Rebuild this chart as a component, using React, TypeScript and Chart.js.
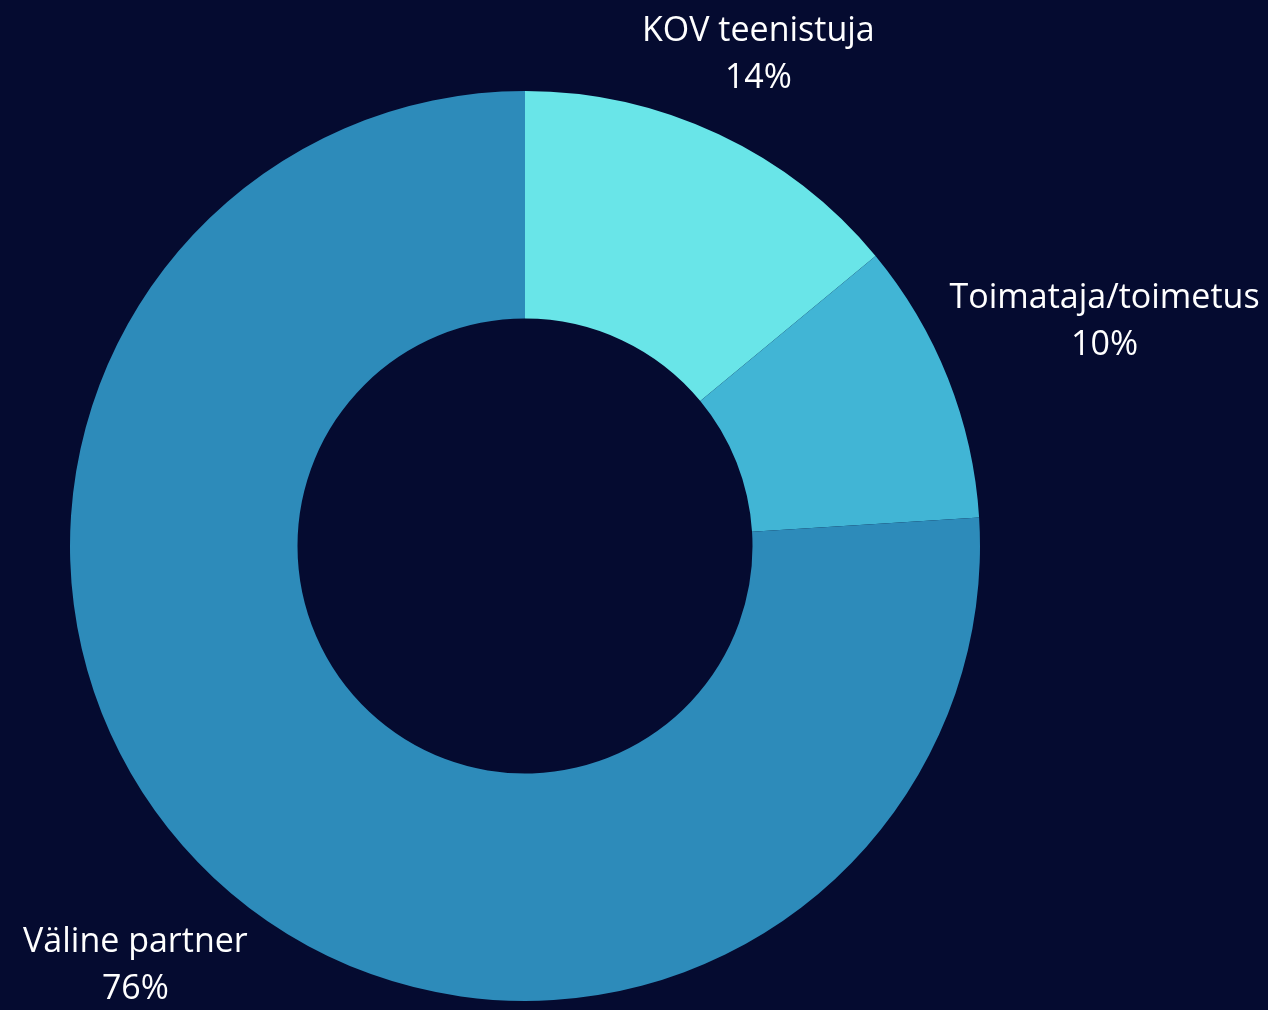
import React, { useEffect, useRef } from "react";
import { Chart, registerables } from "chart.js";

Chart.register(...registerables);

const categories = ["KOV teenistuja", "Toimataja/toimetus", "Väline partner"];
const shares = [14, 10, 76];
const sliceColors = ["#69E5E8", "#41B5D5", "#2D8BBA"];
const BG = "#050B30";

const outsideLabels = {
  id: "outsideLabels",
  afterDatasetsDraw(chart: any) {
    const ctx = chart.ctx;
    const meta = chart.getDatasetMeta(0);
    const lineH = 47;
    const halfH = 36;
    const baselineShift = 5;
    ctx.save();
    ctx.font = `400 34px "Open Sans", Lato, sans-serif`;
    ctx.fillStyle = "#FFFFFF";
    ctx.textAlign = "center";
    ctx.textBaseline = "middle";
    meta.data.forEach((arc: any, i: number) => {
      const { x, y, startAngle, endAngle, outerRadius } = arc.getProps(
        ["x", "y", "startAngle", "endAngle", "outerRadius"],
        true
      );
      const mid = (startAngle + endAngle) / 2;
      const lines = [categories[i], `${shares[i]}%`];
      const w = Math.max(...lines.map((l) => ctx.measureText(l).width));
      const dxu = Math.cos(mid);
      const dyu = Math.sin(mid);
      const dist = outerRadius + 11 + Math.abs(dxu) * (w / 2) + Math.abs(dyu) * halfH;
      const cx = x + dxu * dist;
      const cy = y + dyu * dist + baselineShift;
      ctx.fillText(lines[0], cx, cy - lineH / 2);
      ctx.fillText(lines[1], cx, cy + lineH / 2);
    });
    ctx.restore();
  },
};

export default function App() {
  const ref = useRef<HTMLCanvasElement>(null);
  useEffect(() => {
    if (!ref.current) return;
    const chart = new Chart(ref.current, {
      type: "doughnut",
      data: {
        labels: categories,
        datasets: [
          {
            data: shares,
            backgroundColor: sliceColors,
            borderWidth: 0,
          },
        ],
      },
      options: {
        animation: false,
        responsive: false,
        cutout: "50%",
        layout: { padding: { left: 70, right: 288, top: 91, bottom: 9 } },
        plugins: {
          legend: { display: false },
          tooltip: { enabled: false },
        },
      },
      plugins: [outsideLabels],
    });
    return () => chart.destroy();
  }, []);
  return (
    <div
      style={{
        position: "fixed",
        left: 0,
        top: 0,
        width: 1268,
        height: 1010,
        background: BG,
      }}
    >
      <canvas ref={ref} width={1268} height={1010} style={{ display: "block" }} />
    </div>
  );
}
